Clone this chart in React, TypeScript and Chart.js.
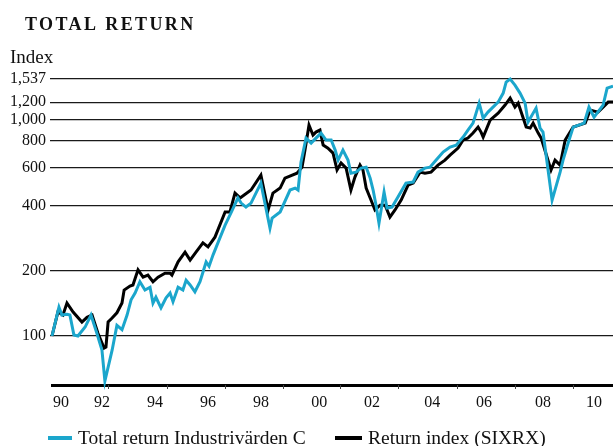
import React, { useEffect, useRef } from 'react';
import { Chart, registerables } from 'chart.js';

Chart.register(...registerables);

// ---- data ----
const chartTitle = 'TOTAL RETURN';
const yAxisLabel = 'Index';
const seriesNames = ['Total return Industrivärden C', 'Return index (SIXRX)'];

const industrivardenYears = [
  1990.0, 1990.26, 1990.37, 1990.56, 1990.67, 1990.82, 1990.97, 1991.24, 1991.46, 1991.68,
  1991.87, 1991.98, 1992.25, 1992.43, 1992.62, 1992.81, 1992.96, 1993.11, 1993.29, 1993.48,
  1993.67, 1993.78, 1993.89, 1994.08, 1994.27, 1994.42, 1994.53, 1994.72, 1994.9, 1995.02,
  1995.17, 1995.35, 1995.54, 1995.65, 1995.77, 1995.88, 1996.03, 1996.21, 1996.48, 1996.7,
  1996.96, 1997.08, 1997.26, 1997.45, 1997.82, 1998.16, 1998.24, 1998.54, 1998.91, 1999.1,
  1999.21, 1999.32, 1999.51, 1999.7, 1999.88, 2000.07, 2000.26, 2000.45, 2000.6, 2000.71,
  2000.89, 2001.08, 2001.19, 2001.38, 2001.57, 2001.76, 2001.91, 2002.02, 2002.13, 2002.24,
  2002.43, 2002.54, 2002.73, 2002.95, 2003.25, 2003.52, 2003.7, 2003.96, 2004.15, 2004.38,
  2004.64, 2004.9, 2005.13, 2005.39, 2005.57, 2005.76, 2005.99, 2006.14, 2006.32, 2006.7,
  2006.89, 2007.0, 2007.15, 2007.33, 2007.52, 2007.71, 2007.82, 2008.12, 2008.27, 2008.38,
  2008.72, 2009.02, 2009.13, 2009.32, 2009.51, 2009.92, 2010.1, 2010.29, 2010.63, 2010.78,
  2011.0,
];
const industrivardenValues = [
  100, 136, 125, 126, 125, 101, 100, 110, 125, 103,
  86, 62, 86, 112, 107, 125, 147, 158, 178, 163,
  168, 142, 151, 135, 150, 158, 144, 168, 163, 181,
  172, 160, 178, 197, 220, 210, 237, 269, 325, 370,
  434, 411, 394, 411, 508, 315, 350, 374, 472, 482,
  472, 635, 820, 778, 820, 865, 803, 803, 722, 649,
  722, 649, 565, 571, 596, 602, 536, 472, 402, 332,
  462, 390, 394, 438, 508, 514, 571, 596, 602, 649,
  707, 745, 761, 829, 893, 962, 1189, 1014, 1081, 1202,
  1323, 1487, 1537, 1440, 1323, 1189, 972, 1128, 912, 874,
  424, 571, 649, 778, 922, 962, 1140, 1025, 1165, 1395,
  1425,
];

const sixrxYears = [
  1990.0, 1990.22, 1990.41, 1990.56, 1990.79, 1991.12, 1991.31, 1991.5, 1991.72, 1991.95,
  1992.02, 1992.1, 1992.25, 1992.43, 1992.62, 1992.7, 1992.92, 1993.03, 1993.22, 1993.41,
  1993.59, 1993.78, 1993.97, 1994.23, 1994.42, 1994.49, 1994.72, 1994.98, 1995.17, 1995.39,
  1995.65, 1995.84, 1996.1, 1996.48, 1996.66, 1996.85, 1997.04, 1997.45, 1997.82, 1998.09,
  1998.27, 1998.54, 1998.72, 1999.17, 1999.36, 1999.47, 1999.62, 1999.77, 1999.88, 2000.03,
  2000.15, 2000.33, 2000.52, 2000.67, 2000.82, 2001.01, 2001.19, 2001.34, 2001.53, 2001.64,
  2001.76, 2001.91, 2002.09, 2002.28, 2002.47, 2002.65, 2002.84, 2003.07, 2003.33, 2003.52,
  2003.78, 2003.96, 2004.19, 2004.45, 2004.71, 2004.9, 2005.2, 2005.39, 2005.57, 2005.76,
  2005.95, 2006.06, 2006.14, 2006.4, 2006.7, 2006.96, 2007.15, 2007.33, 2007.45, 2007.75,
  2007.9, 2008.01, 2008.2, 2008.31, 2008.68, 2008.83, 2009.02, 2009.21, 2009.51, 2009.96,
  2010.14, 2010.44, 2010.82, 2011.0,
];
const sixrxValues = [
  100, 129, 125, 142, 129, 116, 122, 125, 103, 88,
  89, 116, 121, 128, 142, 163, 170, 172, 202, 187,
  191, 178, 187, 195, 195, 191, 220, 244, 224, 244,
  269, 258, 286, 374, 374, 457, 434, 472, 553, 382,
  457, 482, 536, 565, 602, 722, 941, 847, 874, 893,
  761, 737, 699, 584, 629, 596, 472, 542, 615, 584,
  482, 434, 382, 402, 402, 354, 382, 424, 498, 508,
  571, 565, 571, 615, 649, 684, 737, 803, 820, 865,
  922, 874, 829, 993, 1069, 1165, 1254, 1140, 1189, 922,
  912, 962, 865, 820, 584, 649, 615, 803, 922, 962,
  1104, 1081, 1202, 1202,
];

const yTickValues = [100, 200, 400, 600, 800, 1000, 1200, 1537];
const xTickLabels = ['90', '92', '94', '96', '98', '00', '02', '04', '06', '08', '10'];
const xTickYears = [1990.34, 1991.87, 1993.86, 1995.84, 1997.82, 2000.0, 2001.98, 2004.23, 2006.17, 2008.38, 2010.29];
const minorTickYears = [1992.1, 1994.31, 1996.48, 1998.65, 2000.78, 2002.95, 2005.16, 2007.33, 2009.51];

const X_MIN = 1990;
const X_MAX = 2011;
const Y_MIN = 59.4;
const Y_MAX = 1537;

// ---- styles ----
const CYAN = '#1ba6cc';
const BLACK = '#000000';
const FONT = '"Liberation Serif", "DejaVu Serif", serif';

const decorPlugin = {
  id: 'decor',
  afterDraw(chart: any) {
    const ctx = chart.ctx as CanvasRenderingContext2D;
    const xs = chart.scales.x;
    const area = chart.chartArea;
    ctx.save();
    // minor ticks under baseline
    ctx.strokeStyle = '#444';
    ctx.lineWidth = 1;
    minorTickYears.forEach((yr) => {
      const px = Math.round(xs.getPixelForValue(yr)) + 0.5;
      ctx.beginPath();
      ctx.moveTo(px, area.bottom);
      ctx.lineTo(px, area.bottom + 4);
      ctx.stroke();
    });
    // title
    ctx.fillStyle = '#111';
    ctx.textBaseline = 'alphabetic';
    ctx.textAlign = 'left';
    ctx.font = `bold 18px ${FONT}`;
    (ctx as any).letterSpacing = '2.4px';
    ctx.fillText(chartTitle, 25, 30);
    (ctx as any).letterSpacing = '0px';
    // y-axis caption
    ctx.font = `19px ${FONT}`;
    ctx.fillText(yAxisLabel, 10, 63);
    // legend
    const legendItems = [
      { color: CYAN, x0: 48, x1: 72, tx: 78 },
      { color: BLACK, x0: 335, x1: 362, tx: 368 },
    ];
    ctx.font = `19.5px ${FONT}`;
    legendItems.forEach((it, i) => {
      ctx.strokeStyle = it.color;
      ctx.lineWidth = 4;
      ctx.beginPath();
      ctx.moveTo(it.x0, 438);
      ctx.lineTo(it.x1, 438);
      ctx.stroke();
      ctx.fillStyle = '#111';
      ctx.fillText(seriesNames[i], it.tx, 444);
    });
    ctx.restore();
  },
};

export default function App() {
  const canvasRef = useRef<HTMLCanvasElement | null>(null);

  useEffect(() => {
    document.body.style.margin = '0';
    const canvas = canvasRef.current;
    if (!canvas) return;
    const chart = new Chart(canvas, {
      type: 'line',
      data: {
        datasets: [
          {
            label: seriesNames[0],
            data: industrivardenYears.map((x, i) => ({ x, y: industrivardenValues[i] })),
            borderColor: CYAN,
            backgroundColor: CYAN,
            borderWidth: 3,
            pointRadius: 0,
            tension: 0,
            clip: 6,
          },
          {
            label: seriesNames[1],
            data: sixrxYears.map((x, i) => ({ x, y: sixrxValues[i] })),
            borderColor: BLACK,
            backgroundColor: BLACK,
            borderWidth: 3,
            pointRadius: 0,
            tension: 0,
            clip: 6,
          },
        ],
      },
      options: {
        responsive: false,
        animation: false,
        devicePixelRatio: 1,
        layout: { padding: { top: 79, right: 0, bottom: 0, left: 0 } },
        plugins: {
          legend: { display: false },
          title: { display: false },
          tooltip: { enabled: false },
        },
        scales: {
          x: {
            type: 'linear',
            min: X_MIN,
            max: X_MAX,
            afterBuildTicks: (scale: any) => {
              scale.ticks = xTickYears.map((v) => ({ value: v }));
            },
            afterFit: (scale: any) => {
              scale.height = 61;
            },
            grid: { display: false, drawTicks: false },
            border: { display: true, color: '#000', width: 3 },
            ticks: {
              autoSkip: false,
              maxRotation: 0,
              padding: 8,
              color: '#111',
              font: { family: FONT, size: 16 },
              callback: (_v: any, i: number) => xTickLabels[i],
            },
          },
          y: {
            type: 'logarithmic',
            min: Y_MIN,
            max: Y_MAX,
            afterBuildTicks: (scale: any) => {
              scale.ticks = yTickValues.map((v) => ({ value: v }));
            },
            afterFit: (scale: any) => {
              scale.width = 52;
            },
            grid: { color: '#1a1a1a', lineWidth: 1.2, drawTicks: true, tickLength: 2 },
            border: { display: false },
            ticks: {
              autoSkip: false,
              padding: 4,
              color: '#111',
              font: { family: FONT, size: 16 },
              callback: (v: any) => Number(v).toLocaleString('en-US'),
            },
          },
        },
      },
      plugins: [decorPlugin],
    } as any);
    return () => chart.destroy();
  }, []);

  return (
    <div style={{ position: 'fixed', left: 0, top: 0, width: 613, height: 446, background: '#fff' }}>
      <canvas ref={canvasRef} width={613} height={446} style={{ display: 'block' }} />
    </div>
  );
}
